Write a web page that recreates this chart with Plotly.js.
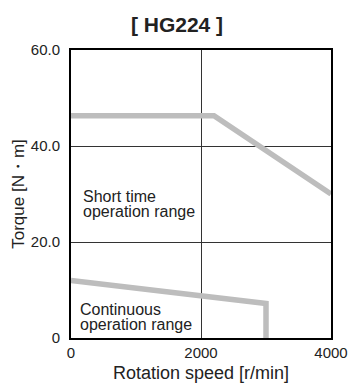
<!DOCTYPE html>
<html>
<head>
<meta charset="utf-8">
<script src="https://cdn.plot.ly/plotly-3.0.1.min.js"></script>
<style>html,body{margin:0;padding:0;background:#fff;}#chart{width:354px;height:387px;}</style>
</head>
<body>
<div id="chart"></div>
<script>
const shortSpeed = [0, 2200, 4000];
const shortTorque = [46.3, 46.3, 30];
const contSpeed = [0, 3000, 3000];
const contTorque = [12, 7.2, 0];
const yTickVals = [0, 20, 40, 60];
const yTickText = ["0", "20.0", "40.0", "60.0"];
const xTickVals = [0, 2000, 4000];
const xTickText = ["0", "2000", "4000"];

const font = "Liberation Sans, Arial, Helvetica, sans-serif";
const lineStyle = {color: "#bdbdbd", width: 5.5, shape: "linear"};

const traces = [
  {x: shortSpeed, y: shortTorque, mode: "lines", line: lineStyle, hoverinfo: "skip"},
  {x: contSpeed, y: contTorque, mode: "lines", line: lineStyle, hoverinfo: "skip"}
];

const layout = {
  width: 354, height: 387,
  margin: {l: 71, r: 23, t: 50, b: 49},
  paper_bgcolor: "#fff", plot_bgcolor: "#fff",
  showlegend: false,
  font: {family: font, color: "#222"},
  title: {text: "<b>[ HG224 ]</b>", font: {size: 21, family: font, color: "#222"}, x: 0.5, xanchor: "center", y: 0.936, yanchor: "middle"},
  xaxis: {
    range: [0, 4000], tickvals: xTickVals, ticktext: xTickText,
    showgrid: true, gridcolor: "#333", gridwidth: 1,
    showline: true, linecolor: "#000", linewidth: 2, mirror: true,
    zeroline: false, ticks: "", tickfont: {size: 15, family: font, color: "#222"},
    title: {text: "Rotation speed [r/min]", font: {size: 18, family: font, color: "#222"}, standoff: 6},
    fixedrange: true
  },
  yaxis: {
    range: [0, 60], tickvals: yTickVals, ticktext: yTickText,
    showgrid: true, gridcolor: "#333", gridwidth: 1,
    showline: true, linecolor: "#000", linewidth: 2, mirror: true,
    zeroline: false, ticks: "", ticklabelstandoff: 6, tickfont: {size: 15, family: font, color: "#222"},
    title: {text: "Torque [N・m]", font: {size: 17, family: font, color: "#222"}, standoff: 2},
    fixedrange: true
  },
  annotations: [
    {x: 150, y: 29.4, xref: "x", yref: "y", text: "Short time", showarrow: false, xanchor: "left", yanchor: "middle", font: {size: 16, family: font, color: "#222"}},
    {x: 150, y: 26.3, xref: "x", yref: "y", text: "operation range", showarrow: false, xanchor: "left", yanchor: "middle", font: {size: 16, family: font, color: "#222"}},
    {x: 110, y: 6.0, xref: "x", yref: "y", text: "Continuous", showarrow: false, xanchor: "left", yanchor: "middle", font: {size: 16, family: font, color: "#222"}},
    {x: 110, y: 2.9, xref: "x", yref: "y", text: "operation range", showarrow: false, xanchor: "left", yanchor: "middle", font: {size: 16, family: font, color: "#222"}}
  ]
};

Plotly.newPlot("chart", traces, layout, {displayModeBar: false, staticPlot: true});
</script>
</body>
</html>
